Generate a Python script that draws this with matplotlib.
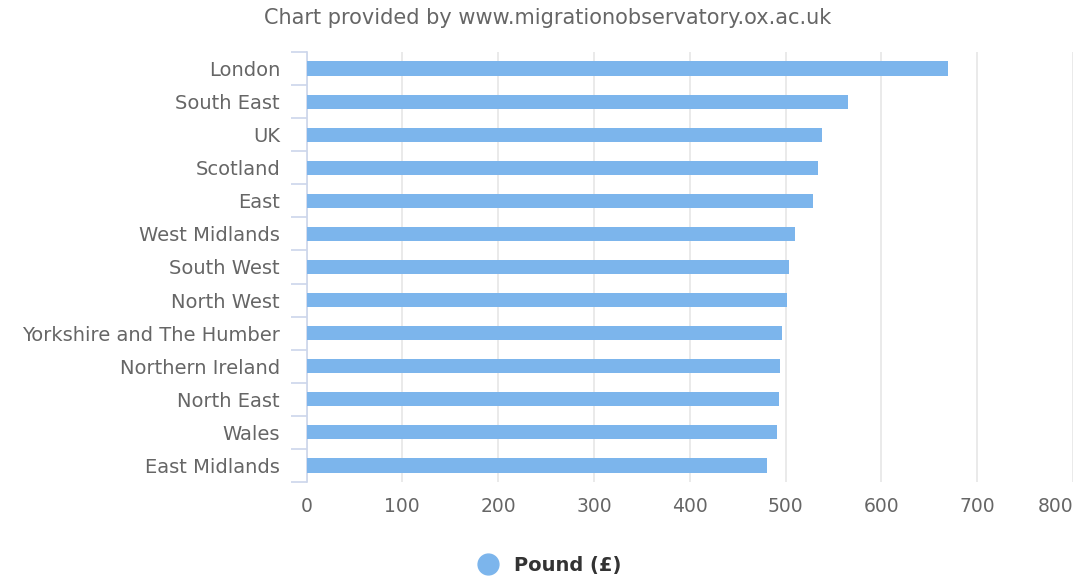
import numpy as np
import matplotlib
matplotlib.use("Agg")
import matplotlib.pyplot as plt
from matplotlib.lines import Line2D

plt.rcParams["font.family"] = ["DejaVu Sans"]

regions = ["London", "South East", "UK", "Scotland", "East", "West Midlands",
           "South West", "North West", "Yorkshire and The Humber",
           "Northern Ireland", "North East", "Wales", "East Midlands"]
pounds = [670, 565, 538, 534, 529, 510, 504, 502, 496, 494.5, 493, 491, 481]
x_ticks = [0, 100, 200, 300, 400, 500, 600, 700, 800]
series_name = "Pound (£)"

BAR = "#7cb5ec"
GREY = "#666666"
AXIS = "#ccd6eb"

fig = plt.figure(figsize=(10.78, 5.82), dpi=100)
ax = fig.add_axes([306.5 / 1078, 100 / 582, (1073 - 306.5) / 1078, 430 / 582])

y = np.arange(len(regions))
ax.barh(y, pounds, height=0.43, color=BAR, zorder=3)
ax.set_ylim(len(regions) - 0.5, -0.5)
ax.set_xlim(0, 800)

ax.set_xticks(x_ticks)
ax.set_xticklabels([str(t) for t in x_ticks])
ax.xaxis.grid(True, color="#e6e6e6", linewidth=1.2, zorder=0)
ax.tick_params(axis="x", length=0, pad=11, labelsize=13.5, labelcolor=GREY)
ax.get_xticklabels()[-1].set_horizontalalignment("right")

ax.set_yticks(y)
ax.set_yticklabels(regions)
ax.tick_params(axis="y", which="major", length=0, pad=19, labelsize=14, labelcolor=GREY)
ax.set_yticks(np.arange(len(regions) + 1) - 0.5, minor=True)
ax.tick_params(axis="y", which="minor", length=11.5, width=1.2, color=AXIS)

for side in ["top", "right", "bottom"]:
    ax.spines[side].set_visible(False)
ax.spines["left"].set_color(AXIS)
ax.spines["left"].set_linewidth(1.2)

fig.text(548 / 1078, 1 - 18 / 582, "Chart provided by www.migrationobservatory.ox.ac.uk",
         ha="center", va="center", fontsize=15, color=GREY)

handle = Line2D([], [], marker="o", linestyle="none", markersize=15,
                markerfacecolor=BAR, markeredgecolor=BAR)
leg = fig.legend([handle], [series_name], loc="center", bbox_to_anchor=(545 / 1078, 1 - 565 / 582),
                 frameon=False, handletextpad=0.3, prop={"weight": "bold", "size": 14})
for t in leg.get_texts():
    t.set_color("#333333")

fig.savefig("out.png", dpi=100)
